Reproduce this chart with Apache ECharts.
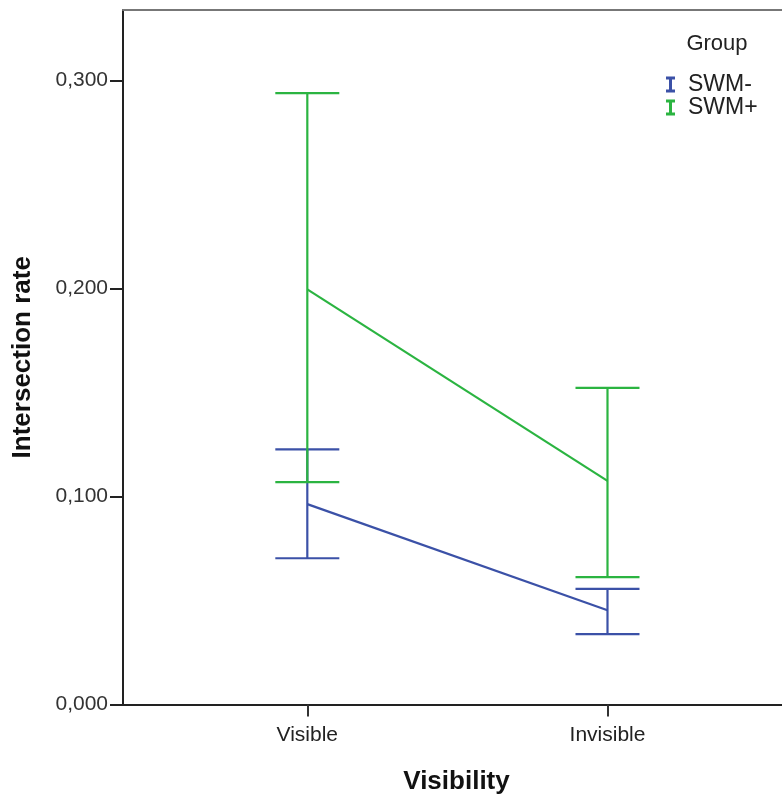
<!DOCTYPE html>
<html>
<head>
<meta charset="utf-8">
<script src="https://cdn.jsdelivr.net/npm/echarts@6/dist/echarts.min.js"></script>
<style>
html,body{margin:0;padding:0;background:#fff;}
#chart{width:782px;height:794px;}
</style>
</head>
<body>
<div id="chart"></div>
<script>
// ---- data ----
var categories = ["Visible", "Invisible"];
var groups = ["SWM-", "SWM+"];
var yTicks = [0, 0.1, 0.2, 0.3];
var meanSWMminus = [0.0963, 0.0453];
var lowSWMminus  = [0.0703, 0.0338];
var highSWMminus = [0.1226, 0.0556];
var meanSWMplus  = [0.1995, 0.1075];
var lowSWMplus   = [0.1069, 0.0612];
var highSWMplus  = [0.2938, 0.1522];

var colors = ["#3b51a7", "#2bb441"];
var FONT = "'Liberation Sans', Arial, sans-serif";

function pts(means) { return means.map(function (v, i) { return [i + 1, v]; }); }
function bars(lo, hi) { return lo.map(function (v, i) { return [i + 1, v, hi[i]]; }); }

function errRender(color) {
  return function (params, api) {
    var x = api.value(0);
    var a = api.coord([x, api.value(1)]);
    var b = api.coord([x, api.value(2)]);
    var hw = 32;
    var st = { stroke: color, lineWidth: 2.2 };
    return {
      type: 'group',
      children: [
        { type: 'line', shape: { x1: a[0], y1: a[1], x2: b[0], y2: b[1] }, style: st },
        { type: 'line', shape: { x1: a[0] - hw, y1: a[1], x2: a[0] + hw, y2: a[1] }, style: st },
        { type: 'line', shape: { x1: b[0] - hw, y1: b[1], x2: b[0] + hw, y2: b[1] }, style: st }
      ]
    };
  };
}

var iconI = 'path://M0,0H9V3H6V13H9V16H0V13H3V3H0Z';

var chart = echarts.init(document.getElementById('chart'), null, { renderer: 'canvas' });
chart.setOption({
  animation: false,
  backgroundColor: '#fff',
  textStyle: { fontFamily: FONT },
  title: {
    text: 'Group', left: 712, top: 28, textAlign: 'center',
    textStyle: { fontFamily: FONT, fontSize: 22, fontWeight: 'normal', color: '#222' }
  },
  legend: {
    orient: 'vertical', left: 666, top: 73, itemGap: 0,
    itemWidth: 9, itemHeight: 16, padding: 0,
    data: groups.map(function (g) { return { name: g, icon: iconI }; }),
    textStyle: { fontFamily: FONT, fontSize: 23, lineHeight: 20, color: '#222', padding: [0, 0, 0, 8] },
    selectedMode: false
  },
  grid: {
    left: 123, right: -8, top: 10, bottom: 89.5,
    outerBoundsMode: 'none', containLabel: false,
    show: false
  },
  xAxis: [{
    type: 'value', min: 0.386, max: 2.608,
    name: 'Visibility', nameLocation: 'middle', nameGap: 64,
    nameTextStyle: { fontFamily: FONT, fontSize: 26, fontWeight: 'bold', color: '#111' },
    axisLine: { lineStyle: { color: '#222', width: 2 } },
    axisTick: { show: true, length: 12, customValues: [1, 2], lineStyle: { color: '#333', width: 2 } },
    axisLabel: {
      customValues: [1, 2], margin: 20,
      fontFamily: FONT, fontSize: 21, color: '#222',
      formatter: function (v) { return categories[Math.round(v) - 1] || ''; }
    },
    splitLine: { show: false }
  }, {
    type: 'value', position: 'top', min: 0.386, max: 2.608,
    axisLine: { show: true, lineStyle: { color: '#777', width: 2 } },
    axisTick: { show: false }, axisLabel: { show: false }, splitLine: { show: false }
  }],
  yAxis: {
    type: 'value', min: 0, max: 0.3338,
    name: 'Intersection rate', nameLocation: 'middle', nameGap: 87, nameRotate: 90,
    nameTextStyle: { fontFamily: FONT, fontSize: 26, fontWeight: 'bold', color: '#111' },
    axisLine: { show: true, lineStyle: { color: '#222', width: 2 } },
    axisTick: { show: true, length: 13, customValues: yTicks, lineStyle: { color: '#222', width: 2 } },
    axisLabel: {
      customValues: yTicks, margin: 15,
      fontFamily: FONT, fontSize: 21, color: '#333',
      formatter: function (v) { return v.toFixed(3).replace('.', ','); }
    },
    splitLine: { show: false }
  },
  series: [
    {
      name: groups[0], type: 'line', data: pts(meanSWMminus), symbol: 'none',
      itemStyle: { color: colors[0] }, lineStyle: { color: colors[0], width: 2.2 }, z: 3
    },
    {
      name: groups[0], type: 'custom', data: bars(lowSWMminus, highSWMminus),
      renderItem: errRender(colors[0]), itemStyle: { color: colors[0] }, z: 3,
      encode: { x: 0, y: [1, 2] }
    },
    {
      name: groups[1], type: 'line', data: pts(meanSWMplus), symbol: 'none',
      itemStyle: { color: colors[1] }, lineStyle: { color: colors[1], width: 2.2 }, z: 4
    },
    {
      name: groups[1], type: 'custom', data: bars(lowSWMplus, highSWMplus),
      renderItem: errRender(colors[1]), itemStyle: { color: colors[1] }, z: 4,
      encode: { x: 0, y: [1, 2] }
    }
  ]
});
</script>
</body>
</html>
